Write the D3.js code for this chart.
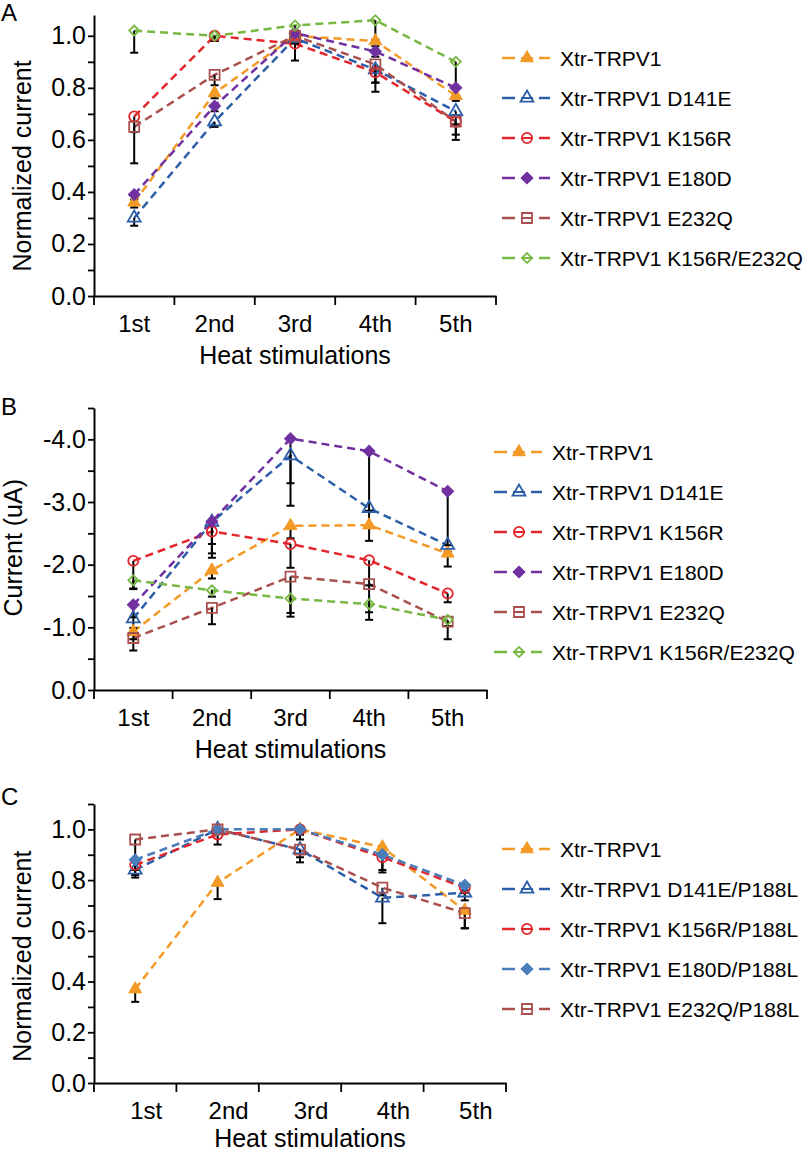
<!DOCTYPE html>
<html>
<head>
<meta charset="utf-8">
<script src="https://cdn.jsdelivr.net/npm/d3@7"></script>
<style>
  body { margin: 0; background: #fff; }
  svg { display: block; font-family: "Liberation Sans", Arial, sans-serif; }
</style>
</head>
<body>
<svg id="chart" width="812" height="1153"></svg>
<script>
// ---------- data ----------
const categories = ["1st", "2nd", "3rd", "4th", "5th"];

const namesA = ["Xtr-TRPV1", "Xtr-TRPV1 D141E", "Xtr-TRPV1 K156R", "Xtr-TRPV1 E180D", "Xtr-TRPV1 E232Q", "Xtr-TRPV1 K156R/E232Q"];
const valuesA = [
  [0.36, 0.78, 1.00, 0.98, 0.77],
  [0.30, 0.67, 0.99, 0.87, 0.71],
  [0.69, 1.00, 0.97, 0.86, 0.67],
  [0.39, 0.73, 1.01, 0.94, 0.80],
  [0.65, 0.85, 1.00, 0.89, 0.67],
  [1.02, 1.00, 1.04, 1.06, 0.90]
];
const errorsA = [
  [0.02, 0.02, 0.02, 0.02, 0.02],
  [0.03, 0.02, 0.02, 0.05, 0.05],
  [0.06, 0.02, 0.065, 0.075, 0.07],
  [0.02, 0.02, 0.02, 0.02, 0.03],
  [0.14, 0.04, 0.02, 0.07, 0.05],
  [0.085, 0.02, 0.02, 0.075, 0.10]
];

const namesB = namesA;
const valuesB = [
  [-0.93, -1.91, -2.62, -2.63, -2.18],
  [-1.14, -2.68, -3.74, -2.90, -2.31],
  [-2.06, -2.53, -2.33, -2.07, -1.54],
  [-1.36, -2.69, -4.01, -3.81, -3.17],
  [-0.83, -1.31, -1.81, -1.69, -1.09],
  [-1.75, -1.59, -1.46, -1.37, -1.12]
];
const errorsB = [
  [0.12, 0.13, 0.20, 0.25, 0.21],
  [0.15, 0.50, 0.80, 0.30, 0.10],
  [0.45, 0.20, 0.38, 0.40, 0.14],
  [0.20, 0.58, 0.71, 0.95, 0.86],
  [0.20, 0.26, 0.58, 0.45, 0.28],
  [0.13, 0.10, 0.29, 0.25, 0.10]
];

const namesC = ["Xtr-TRPV1", "Xtr-TRPV1 D141E/P188L", "Xtr-TRPV1 K156R/P188L", "Xtr-TRPV1 E180D/P188L", "Xtr-TRPV1 E232Q/P188L"];
const valuesC = [
  [0.37, 0.79, 1.00, 0.93, 0.68],
  [0.84, 1.00, 0.92, 0.73, 0.75],
  [0.86, 0.98, 1.00, 0.89, 0.77],
  [0.88, 1.00, 1.00, 0.90, 0.78],
  [0.96, 1.00, 0.92, 0.77, 0.67]
];
const errorsC = [
  [0.05, 0.065, 0.02, 0.02, 0.07],
  [0.03, 0.01, 0.03, 0.10, 0.03],
  [0.04, 0.04, 0.04, 0.06, 0.02],
  [0.04, 0.01, 0.02, 0.06, 0.02],
  [0.09, 0.01, 0.05, 0.03, 0.06]
];

const yTicksNorm = [0, 0.1, 0.2, 0.3, 0.4, 0.5, 0.6, 0.7, 0.8, 0.9, 1.0];
const yLabelsNorm = [0, 0.2, 0.4, 0.6, 0.8, 1.0];
const yTicksCurr = [0, -0.5, -1, -1.5, -2, -2.5, -3, -3.5, -4, -4.5];
const yLabelsCurr = [0, -1, -2, -3, -4];
const yTicksC = [0, 0.1, 0.2, 0.3, 0.4, 0.5, 0.6, 0.7, 0.8, 0.9, 1.0, 1.1];

// ---------- styles ----------
const stylesAB = [
  {color: "#F39A26", shape: "triangle", fill: true},
  {color: "#2C5EA8", shape: "triangle", fill: false},
  {color: "#E3262B", shape: "circle", fill: false},
  {color: "#7030A0", shape: "diamond", fill: true},
  {color: "#A9504E", shape: "square", fill: false},
  {color: "#77B843", shape: "diamondSmall", fill: false}
];
const stylesC = [
  {color: "#F39A26", shape: "triangle", fill: true},
  {color: "#2C5EA8", shape: "triangle", fill: false},
  {color: "#E3262B", shape: "circle", fill: false},
  {color: "#4A7EBB", shape: "diamond", fill: true},
  {color: "#A9504E", shape: "square", fill: false}
];

const panels = [
  {letter: "A", letterY: 21, names: namesA, values: valuesA, errors: errorsA, styles: stylesAB,
   yDomain: [0, 1.08], yRange: [296, 15], xRange: [94, 496], labelShift: 0, titleShift: 0, titleDy: 68,
   yTicks: yTicksNorm, yLabels: yLabelsNorm, yTitle: "Normalized current", yTitleX: 31, yTitleVal: 0.5,
   legendX: 502, legendY: 58, legendTextX: 560},
  {letter: "B", letterY: 415, names: namesB, values: valuesB, errors: errorsB, styles: stylesAB,
   yDomain: [0, -4.5], yRange: [690, 408], xRange: [94, 487], labelShift: 0, titleShift: 0, titleDy: 68,
   yTicks: yTicksCurr, yLabels: yLabelsCurr, yTitle: "Current (uA)", yTitleX: 22, yTitleVal: -2.27,
   legendX: 494, legendY: 452, legendTextX: 552},
  {letter: "C", letterY: 805, names: namesC, values: valuesC, errors: errorsC, styles: stylesC,
   yDomain: [0, 1.1], yRange: [1083, 804], xRange: [94, 506], labelShift: 11, titleShift: 10, titleDy: 64,
   yTicks: yTicksC, yLabels: yLabelsNorm, yTitle: "Normalized current", yTitleX: 31, yTitleVal: 0.5,
   legendX: 502, legendY: 849, legendTextX: 560}
];

const svg = d3.select("#chart");
svg.append("rect").attr("width", 812).attr("height", 1153).attr("fill", "#fff");

function markerPath(shape) {
  switch (shape) {
    case "triangle": return d3.symbol(d3.symbolTriangle, 72)();
    case "circle": return d3.symbol(d3.symbolCircle, 80)();
    case "square": return d3.symbol(d3.symbolSquare, 100)();
    case "diamond": return d3.symbol(d3.symbolSquare, 70)();
    case "diamondSmall": return d3.symbol(d3.symbolSquare, 50)();
  }
}
function drawMarker(g, x, y, st) {
  const rot = st.shape.startsWith("diamond") ? 45 : 0;
  g.append("path")
    .attr("d", markerPath(st.shape))
    .attr("transform", `translate(${x},${y}) rotate(${rot})`)
    .attr("fill", st.fill ? st.color : "none")
    .attr("stroke", st.color)
    .attr("stroke-width", st.fill ? 1 : 1.8);
}

panels.forEach(p => {
  const g = svg.append("g");
  const x = d3.scaleBand().domain(categories).range(p.xRange).padding(0);
  const y = d3.scaleLinear().domain(p.yDomain).range(p.yRange);
  const cx = c => x(c) + x.bandwidth() / 2;
  const axisY = p.yRange[0];

  // panel letter
  g.append("text").attr("x", 1).attr("y", p.letterY).attr("font-size", 24).text(p.letter);

  // y axis
  const yAxis = d3.axisLeft(y).tickValues(p.yTicks).tickSize(6).tickSizeOuter(0).tickPadding(2)
    .tickFormat(d => p.yLabels.some(l => Math.abs(l - d) < 1e-9) ? (Math.abs(d) < 1e-9 ? "0.0" : d.toFixed(1)) : "");
  const ya = g.append("g").attr("transform", `translate(${p.xRange[0]},0)`).call(yAxis);
  ya.selectAll("text").attr("font-size", 25).attr("fill", "#000").attr("font-family", "Liberation Sans, Arial, sans-serif");
  ya.selectAll("line").attr("stroke", "#000").attr("stroke-width", 1.8);
  ya.select(".domain").attr("stroke", "#000").attr("stroke-width", 2);

  // x axis
  const xAxis = d3.axisBottom(x).tickSize(0).tickSizeOuter(0).tickPadding(19);
  const xa = g.append("g").attr("transform", `translate(0,${axisY})`).call(xAxis);
  xa.selectAll("text").attr("font-size", 24).attr("fill", "#000").attr("font-family", "Liberation Sans, Arial, sans-serif")
    .attr("dx", p.labelShift);
  xa.select(".domain").attr("stroke", "#000").attr("stroke-width", 2);
  const bounds = categories.map(c => x(c)).concat([x(categories[categories.length - 1]) + x.bandwidth()]);
  xa.selectAll(".btick").data(bounds).join("line").attr("class", "btick")
    .attr("x1", d => d).attr("x2", d => d).attr("y1", 0).attr("y2", 9)
    .attr("stroke", "#000").attr("stroke-width", 1.8);

  // axis titles
  const midX = (p.xRange[0] + p.xRange[1]) / 2;
  g.append("text").attr("x", midX + p.titleShift).attr("y", axisY + p.titleDy).attr("text-anchor", "middle")
    .attr("font-size", 25).text("Heat stimulations");
  g.append("text").attr("transform", `translate(${p.yTitleX},${y(p.yTitleVal)}) rotate(-90)`)
    .attr("text-anchor", "middle").attr("font-size", 25).text(p.yTitle);

  // lines
  const line = d3.line().x((d, i) => cx(categories[i])).y(d => y(d));
  p.values.forEach((vals, si) => {
    g.append("path").datum(vals).attr("d", line).attr("fill", "none")
      .attr("stroke", p.styles[si].color).attr("stroke-width", 2.5).attr("stroke-dasharray", "8,5");
  });

  // error bars (drawn toward the baseline)
  p.values.forEach((vals, si) => {
    vals.forEach((v, i) => {
      const e = p.errors[si][i];
      const sign = v < 0 ? 1 : -1;
      const xx = cx(categories[i]);
      const y1 = y(v), y2 = y(v + sign * e);
      g.append("line").attr("x1", xx).attr("x2", xx).attr("y1", y1).attr("y2", y2)
        .attr("stroke", "#000").attr("stroke-width", 2);
      g.append("line").attr("x1", xx - 4).attr("x2", xx + 4).attr("y1", y2).attr("y2", y2)
        .attr("stroke", "#000").attr("stroke-width", 2);
    });
  });

  // markers
  p.values.forEach((vals, si) => {
    vals.forEach((v, i) => drawMarker(g, cx(categories[i]), y(v), p.styles[si]));
  });

  // legend
  p.names.forEach((n, si) => {
    const ly = p.legendY + si * 40;
    const st = p.styles[si];
    const lx = p.legendX;
    g.append("line").attr("x1", lx).attr("x2", lx + 13).attr("y1", ly).attr("y2", ly)
      .attr("stroke", st.color).attr("stroke-width", 2.5);
    g.append("line").attr("x1", lx + 37).attr("x2", lx + 48).attr("y1", ly).attr("y2", ly)
      .attr("stroke", st.color).attr("stroke-width", 2.5);
    g.append("line").attr("x1", lx + 19).attr("x2", lx + 31).attr("y1", ly).attr("y2", ly)
      .attr("stroke", st.color).attr("stroke-width", 2);
    drawMarker(g, lx + 25, ly, st);
    g.append("text").attr("x", p.legendTextX).attr("y", ly + 7.5).attr("font-size", 21).text(n);
  });
});
</script>
</body>
</html>
